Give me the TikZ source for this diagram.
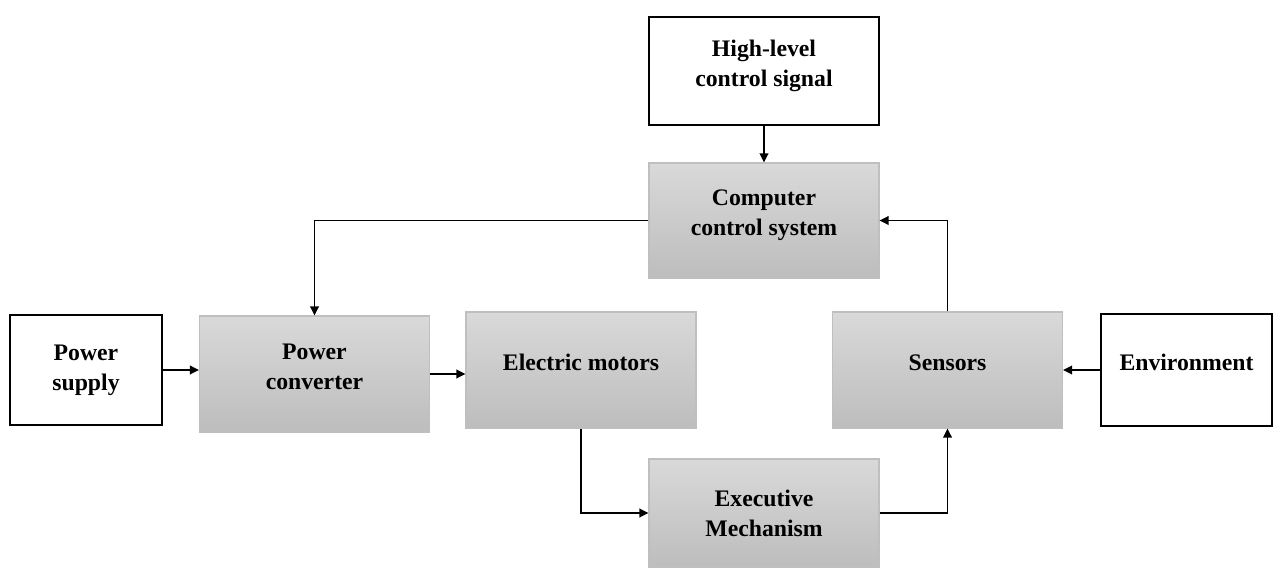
\documentclass[tikz,border=0pt]{standalone}
\usepackage{fontspec}
\setmainfont{Liberation Serif}
\usetikzlibrary{arrows.meta}
\definecolor{boxtop}{HTML}{D9D9D9}
\definecolor{boxbottom}{HTML}{BDBDBD}
\definecolor{boxedge}{HTML}{BFBFBF}
\tikzset{
  graybox/.style={rectangle, draw=boxedge, line width=0.6pt, top color=boxtop, bottom color=boxbottom,
    align=center, inner sep=0pt, font=\fontsize{13.5}{17}\selectfont\bfseries},
  whitebox/.style={rectangle, draw=black, line width=1.1pt, fill=white,
    align=center, inner sep=0pt, font=\fontsize{13.5}{17}\selectfont\bfseries},
  raised/.style={text depth=0.3cm},
  arr/.style={-{Triangle[length=1.8mm,width=1.7mm]}, line width=1.05pt}
}

\begin{document}
\begin{tikzpicture}
    \useasboundingbox (0,0) rectangle (25.48,-11.38);
    % boxes
    \node[whitebox, raised, minimum width=4.6cm, minimum height=2.16cm] (highlevel) at (15.28,-1.42) {High-level\\control signal};
    \node[graybox, raised, minimum width=4.6cm, minimum height=2.3cm] (computer) at (15.28,-4.41) {Computer\\control system};
    \node[whitebox, minimum width=3.04cm, minimum height=2.2cm] (supply) at (1.72,-7.4) {Power\\supply};
    \node[graybox, raised, minimum width=4.6cm, minimum height=2.32cm] (converter) at (6.29,-7.48) {Power\\converter};
    \node[graybox, raised, minimum width=4.6cm, minimum height=2.32cm] (motors) at (11.62,-7.4) {Electric motors};
    \node[graybox, raised, minimum width=4.6cm, minimum height=2.32cm] (sensors) at (18.95,-7.4) {Sensors};
    \node[whitebox, raised, minimum width=3.42cm, minimum height=2.24cm] (environment) at (23.73,-7.4) {Environment};
    \node[graybox, minimum width=4.6cm, minimum height=2.16cm] (executive) at (15.28,-10.26) {Executive\\Mechanism};
    % connectors
    \draw[arr] (highlevel.south) -- (computer.north);
    \draw[arr] (computer.west) -| (converter.north);
    \draw[arr] (sensors.north) |- (computer.east);
    \draw[arr] (supply.east) -- (supply.east -| converter.west);
    \draw[arr] (converter.east) -- (converter.east -| motors.west);
    \draw[arr] (motors.south) |- (executive.west);
    \draw[arr] (executive.east) -| (sensors.south);
    \draw[arr] (environment.west) -- (sensors.east);
\end{tikzpicture}
\end{document}
